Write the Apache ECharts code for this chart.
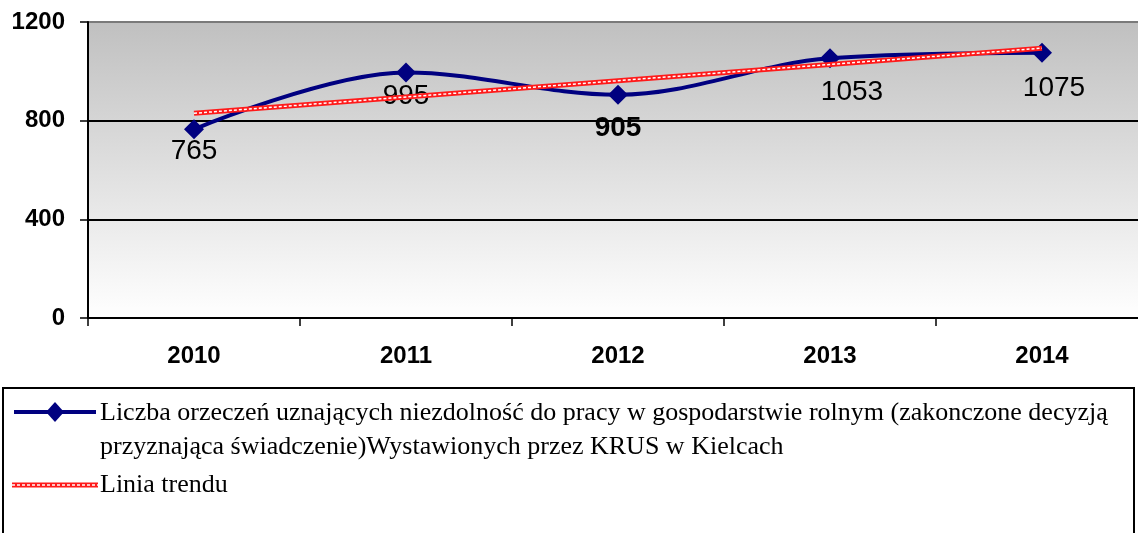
<!DOCTYPE html>
<html>
<head>
<meta charset="utf-8">
<script src="https://cdn.jsdelivr.net/npm/echarts@6/dist/echarts.min.js"></script>
<style>
html,body{margin:0;padding:0;background:#fff;}
#chart{width:1138px;height:533px;}
</style>
</head>
<body>
<div id="chart"></div>
<script>
var years = ['2010', '2011', '2012', '2013', '2014'];
var orzeczenia = [765, 995, 905, 1053, 1075];
// linia trendu (poczatek 2010, koniec 2014)
var trendEnds = [830, 1094];
var yTicks = [0, 400, 800, 1200];

var seriesName = 'Liczba orzeczeń uznających niezdolność do pracy w gospodarstwie rolnym (zakonczone decyzją\nprzyznająca świadczenie)Wystawionych przez KRUS w Kielcach';
var trendName = 'Linia trendu';

var myChart = echarts.init(document.getElementById('chart'));

var labelFont = 'Liberation Sans, Arial, sans-serif';
var serifFont = 'Liberation Serif, Times New Roman, serif';
// przesuniecia etykiet wzgledem punktu [dx, dy]
var labelShift = [[0, 22], [0, 24], [0, 34], [22, 34], [12, 35]];

var lineData = orzeczenia.map(function(v, i){
    return {
        value: v,
        label: {
            show: true,
            position: 'inside',
            offset: labelShift[i],
            fontSize: 28,
            fontFamily: labelFont,
            fontWeight: i === 2 ? 'bold' : 'normal',
            color: '#000'
        }
    };
});
var trendData = [[years[0], trendEnds[0]], [years[years.length - 1], trendEnds[1]]];

var option = {
    animation: false,
    backgroundColor: '#fff',
    grid: {
        left: 88,
        top: 22,
        width: 1060,
        height: 296,
        outerBoundsMode: 'none',
        containLabel: false,
        show: true,
        borderWidth: 0,
        backgroundColor: new echarts.graphic.LinearGradient(0, 0, 0, 1, [
            {offset: 0, color: '#c0c0c0'},
            {offset: 1, color: '#ffffff'}
        ])
    },
    xAxis: {
        type: 'category',
        data: years,
        boundaryGap: true,
        axisLine: {lineStyle: {color: '#000', width: 1.5}},
        axisTick: {show: true, length: 8, lineStyle: {color: '#000', width: 1.5}},
        axisLabel: {
            margin: 26,
            fontSize: 24,
            fontWeight: 'bold',
            fontFamily: labelFont,
            color: '#000'
        }
    },
    yAxis: {
        type: 'value',
        min: yTicks[0],
        max: yTicks[yTicks.length - 1],
        interval: yTicks[1] - yTicks[0],
        axisLine: {show: true, lineStyle: {color: '#000', width: 2}},
        axisTick: {show: true, length: 8, lineStyle: {color: '#000', width: 1.5}},
        axisLabel: {
            margin: 23,
            fontSize: 24,
            fontWeight: 'bold',
            fontFamily: labelFont,
            color: '#000',
            formatter: function(v){ return String(v); }
        },
        splitLine: {
            show: true,
            lineStyle: {color: ['#000', '#000', '#000', '#7a7a7a'], width: 2}
        }
    },
    series: [
        {
            name: seriesName,
            type: 'line',
            data: lineData,
            smooth: 0.35,
            symbol: 'diamond',
            symbolSize: 20,
            z: 3,
            lineStyle: {color: '#000080', width: 4},
            itemStyle: {color: '#000080'}
        },
        {
            name: trendName,
            type: 'line',
            data: trendData,
            symbol: 'none',
            z: 4,
            lineStyle: {color: '#ff1a1a', width: 5}
        },
        {
            name: 'trend-inner',
            type: 'line',
            data: trendData,
            symbol: 'none',
            z: 5,
            silent: true,
            lineStyle: {color: '#ffffff', width: 1.5, type: [3, 2]}
        }
    ],
    graphic: [
        {
            type: 'rect',
            shape: {x: 3, y: 388, width: 1131, height: 160},
            style: {fill: 'none', stroke: '#000', lineWidth: 2}
        },
        {
            type: 'line',
            shape: {x1: 14, y1: 412, x2: 96, y2: 412},
            style: {stroke: '#000080', lineWidth: 4}
        },
        {
            type: 'polygon',
            shape: {points: [[55, 402], [64, 412], [55, 422], [46, 412]]},
            style: {fill: '#000080'}
        },
        {
            type: 'text',
            style: {
                x: 100, y: 396,
                text: seriesName,
                font: '26px ' + serifFont,
                lineHeight: 34,
                fill: '#000',
                verticalAlign: 'top'
            }
        },
        {
            type: 'line',
            shape: {x1: 12, y1: 485, x2: 98, y2: 485},
            style: {stroke: '#ff1a1a', lineWidth: 5}
        },
        {
            type: 'line',
            shape: {x1: 12, y1: 485, x2: 98, y2: 485},
            style: {stroke: '#ffffff', lineWidth: 1.5, lineDash: [3, 2]}
        },
        {
            type: 'text',
            style: {
                x: 100, y: 468,
                text: trendName,
                font: '26px ' + serifFont,
                lineHeight: 34,
                fill: '#000',
                verticalAlign: 'top'
            }
        }
    ]
};
myChart.setOption(option);
</script>
</body>
</html>
